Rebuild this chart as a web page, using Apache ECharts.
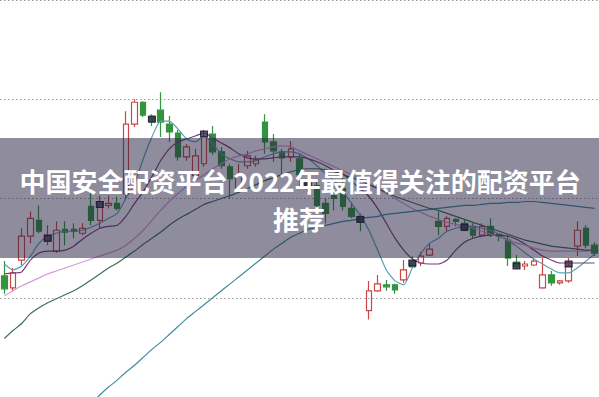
<!DOCTYPE html>
<html>
<head>
<meta charset="utf-8">
<script src="https://cdn.jsdelivr.net/npm/echarts@6/dist/echarts.min.js"></script>
<style>
html,body{margin:0;padding:0;background:#fff;}
#c{width:599px;height:397px;}
</style>
</head>
<body>
<div id="c"></div>
<script>
// ---- data ----
const titleLine1 = '中国安全配资平台 2022年最值得关注的配资平台';
const titleLine2 = '推荐';

// candles: [open, close, low, high]
const candles = [
  [10.22,10.09,10.04,10.37],[10.10,10.25,10.07,10.30],[10.38,10.62,10.33,10.70],[10.62,10.80,10.55,10.87],
  [10.78,10.67,10.65,10.93],[10.57,10.63,10.53,10.73],[10.47,10.68,10.45,10.77],[10.69,10.66,10.53,10.77],
  [10.69,10.67,10.60,10.75],[10.65,10.70,10.63,10.75],[10.92,10.78,10.73,11.08],[10.78,10.97,10.70,11.03],
  [10.93,10.95,10.90,11.03],[10.95,10.90,10.88,11.02],[11.05,11.75,11.00,11.88],[11.75,11.97,11.72,12.00],
  [11.97,11.84,11.82,11.98],[11.83,11.77,11.73,11.85],[11.89,11.77,11.62,12.07],[11.75,11.67,11.57,11.83],
  [11.66,11.42,11.38,11.69],[11.42,11.52,11.38,11.55],[11.23,11.43,11.17,11.50],[11.35,11.62,11.32,11.69],
  [11.65,11.47,11.44,11.73],[11.47,11.33,11.30,11.52],[11.32,11.20,11.00,11.35],[11.10,11.24,11.07,11.35],
  [11.33,11.43,11.30,11.48],[11.35,11.39,11.32,11.43],[11.77,11.57,11.45,11.85],[11.57,11.48,11.37,11.65],
  [11.47,11.41,11.23,11.50],[11.42,11.50,11.37,11.58],[11.40,11.24,11.10,11.45],[11.15,11.10,11.07,11.20],
  [11.13,10.93,10.90,11.20],[10.95,10.85,10.75,11.00],[11.03,11.00,10.88,11.13],[11.10,10.92,10.88,11.22],
  [10.90,10.82,10.80,10.95],[10.82,10.76,10.67,10.85],[9.87,10.07,9.78,10.17],[10.07,10.14,10.06,10.23],
  [10.13,10.11,10.07,10.18],[10.13,10.08,10.04,10.14],[10.18,10.28,10.15,10.38],[10.37,10.31,10.30,10.42],
  [10.35,10.42,10.32,10.46],[10.43,10.49,10.42,10.55],[10.77,10.72,10.63,10.87],[10.72,10.80,10.67,10.82],
  [10.79,10.77,10.72,10.80],[10.75,10.68,10.67,10.78],[10.72,10.63,10.60,10.75],[10.63,10.72,10.62,10.75],
  [10.72,10.63,10.61,10.80],[10.64,10.62,10.57,10.65],[10.58,10.40,10.32,10.63],[10.36,10.31,10.29,10.43],
  [10.32,10.34,10.28,10.37],[10.33,10.37,10.32,10.40],[10.10,10.23,10.09,10.40],[10.23,10.15,10.12,10.27],
  [10.15,10.17,10.13,10.18],[10.17,10.32,10.15,10.40],[10.52,10.68,10.42,10.77],[10.70,10.53,10.50,10.73],
  [10.53,10.45,10.42,10.56]
];
const days = candles.map((_, i) => 'D' + (i + 1));

// signal markers (day index, price)
const markerDays = [5, 11, 17, 23, 35, 41, 47, 53, 59, 65];
const markerPrices = [10.60, 10.94, 11.80, 11.65, 11.13, 10.79, 10.35, 10.71, 10.32, 10.34];

const ma5 = [10.34,10.28,10.32,10.42,10.55,10.62,10.65,10.67,10.67,10.68,10.71,10.75,10.80,10.85,11.00,11.15,11.40,11.62,11.78,11.78,
  11.70,11.60,11.57,11.63,11.55,11.45,11.40,11.37,11.37,11.38,11.42,11.45,11.47,11.47,11.45,11.40,11.33,11.25,11.18,11.07,
  10.95,10.83,10.68,10.48,10.28,10.17,10.13,10.30,10.45,10.55,10.60,10.67,10.70,10.72,10.72,10.70,10.68,10.64,10.58,10.52,
  10.45,10.39,10.34,10.29,10.25,10.25,10.30,10.37,10.44];
const ma10 = [10.24,10.25,10.26,10.38,10.45,10.47,10.47,10.48,10.52,10.59,10.65,10.70,10.72,10.73,10.82,10.95,11.07,11.22,11.38,11.50,
  11.57,11.60,11.63,11.66,11.61,11.56,11.51,11.45,11.41,11.40,11.40,11.41,11.42,11.42,11.42,11.40,11.37,11.33,11.28,11.25,
  11.17,11.10,11.02,10.90,10.75,10.60,10.48,10.39,10.35,10.34,10.34,10.38,10.48,10.56,10.60,10.62,10.63,10.63,10.62,10.59,
  10.54,10.48,10.42,10.38,10.35,10.35,10.35,10.35,10.35];
const ma20 = [10.02,10.07,10.12,10.16,10.20,10.24,10.27,10.30,10.33,10.36,10.39,10.42,10.45,10.48,10.53,10.60,10.68,10.78,10.88,10.97,
  11.05,11.12,11.18,11.24,11.30,11.35,11.40,11.43,11.45,11.48,11.50,11.52,11.53,11.52,11.48,11.44,11.40,11.36,11.32,11.28,
  11.24,11.20,11.15,11.10,11.05,11.00,10.95,10.90,10.86,10.82,10.79,10.76,10.74,10.72,10.70,10.67,10.64,10.61,10.58,10.55,
  10.53,10.50,10.48,10.47,10.47,10.47,10.47,10.47,10.48];
const ma30 = [9.59,9.67,9.74,9.84,9.90,9.95,9.99,10.03,10.07,10.12,10.18,10.24,10.30,10.35,10.41,10.47,10.54,10.60,10.66,10.73,
  10.79,10.84,10.89,10.94,10.97,11.00,11.03,11.06,11.10,11.14,11.18,11.21,11.24,11.27,11.29,11.30,11.30,11.29,11.27,11.24,
  11.21,11.18,11.14,11.10,11.06,11.02,10.99,10.96,10.93,10.90,10.88,10.85,10.82,10.79,10.76,10.73,10.70,10.67,10.64,10.61,
  10.58,10.56,10.54,10.52,10.51,10.50,10.49,10.48,10.48];
const ma60 = ['-','-','-','-','-','-','-','-','-','-',8.93,9.02,9.10,9.17,9.25,9.32,9.40,9.48,9.55,9.63,
  9.71,9.79,9.86,9.93,10.00,10.07,10.14,10.21,10.28,10.35,10.42,10.49,10.55,10.61,10.65,10.69,10.71,10.73,10.75,10.77,
  10.78,10.80,10.81,10.82,10.84,10.85,10.86,10.87,10.88,10.89,10.90,10.91,10.92,10.93,10.93,10.94,10.95,10.95,10.96,10.96,
  10.97,10.97,10.96,10.95,10.94,10.93,10.92,10.91,10.90];

// ---- chart ----
const chart = echarts.init(document.getElementById('c'), null, {renderer: 'svg'});
const lineSeries = (name, data, color) => ({
  name, type: 'line', data, symbol: 'none', smooth: 0.2, z: 3,
  lineStyle: {color, width: 1.2}, silent: true
});
chart.setOption({
  animation: false,
  backgroundColor: '#ffffff',
  grid: {left: -1.4, right: -2.6, top: -1, bottom: -1, containLabel: false},
  xAxis: {type: 'category', data: days, boundaryGap: true,
    axisLine: {show: false}, axisTick: {show: false}, axisLabel: {show: false}, splitLine: {show: false}},
  yAxis: {type: 'value', min: 9, max: 13, interval: 1,
    axisLine: {show: false}, axisTick: {show: false}, axisLabel: {show: false},
    splitLine: {show: true, lineStyle: {color: '#9a9a9a', type: [1.5, 2.5], width: 1}}},
  series: [
    {type: 'candlestick', data: candles, barWidth: 6, z: 2,
      itemStyle: {color: 'rgba(255,255,255,0)', color0: '#33943f',
        borderColor: '#cc4646', borderColor0: '#33943f', borderWidth: 1.2}},
    lineSeries('MA5', ma5, '#5aa3b3'),
    lineSeries('MA10', ma10, '#7a3f7a'),
    lineSeries('MA20', ma20, '#d79ad9'),
    lineSeries('MA30', ma30, '#3f6f52'),
    lineSeries('MA60', ma60, '#3f8d9c'),
    {type: 'scatter', z: 5, symbol: 'rect', symbolSize: [7, 6], silent: true,
      data: markerDays.map((d, i) => [d, markerPrices[i]]),
      itemStyle: {color: '#3a2f55', borderColor: '#0e0b1a', borderWidth: 1}}
  ],
  graphic: [
    {type: 'rect', z: 100, silent: true,
      shape: {x: 0, y: 138, width: 599, height: 120},
      style: {fill: 'rgba(32,28,60,0.5)'}},
    {type: 'text', z: 101, silent: true, x: 300, y: 180,
      style: {text: titleLine1, fill: '#ffffff', align: 'center', verticalAlign: 'middle',
        font: 'bold 26px "Noto Sans CJK SC", sans-serif'}},
    {type: 'text', z: 101, silent: true, x: 299, y: 218,
      style: {text: titleLine2, fill: '#ffffff', align: 'center', verticalAlign: 'middle',
        font: 'bold 26px "Noto Sans CJK SC", sans-serif'}}
  ]
});
</script>
</body>
</html>
